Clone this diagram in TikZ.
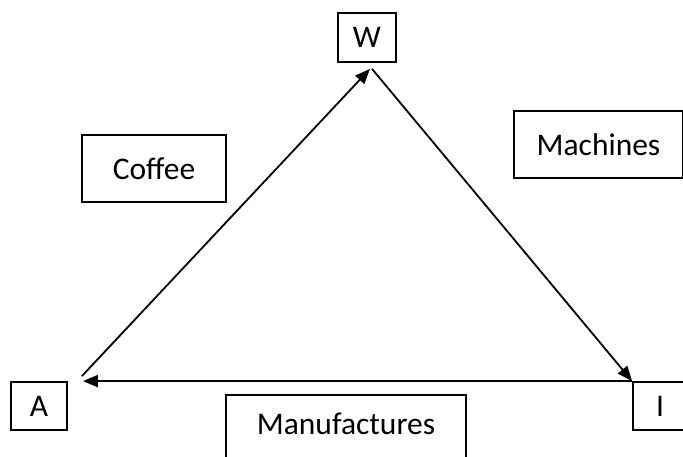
\documentclass[tikz,border=0pt]{standalone}
\usepackage{fontspec}
\setmainfont{Carlito}
\usepackage{tikz}
\usetikzlibrary{arrows.meta, positioning, calc}

\begin{document}
\begin{tikzpicture}[
  x=1pt, y=-1pt,
  box/.style={draw, line width=1.8pt, inner sep=0pt, font=\fontsize{31.5}{36}\selectfont},
  link/.style={-{Triangle[length=15pt, width=12pt]}, line width=1.8pt}
]
  \useasboundingbox (0,0) rectangle (683,457);

  % Vertices
  \node[box, minimum width=58, minimum height=49] (W) at (367,37.5) {W};
  \node[box, minimum width=56, minimum height=48] (A) at (39,406) {A};
  \node[box, minimum width=54, minimum height=48] (I) at (660,406) {I};

  % Labels
  \node[box, minimum width=144, minimum height=67] (coffee) at (154,168.5) {Coffee};
  \node[box, minimum width=169, minimum height=67] (machines) at (598.5,144.5) {Machines};
  \node[box, minimum width=240, text height=22, text depth=14, inner ysep=18, anchor=north]
    (manuf) at (346,394) {Manufactures};

  % Trade routes
  \draw[link] ($(A.north east)+(14,-5)$) -- ($(W.south)+(3,6)$);
  \draw[link] ($(W.south)+(5,6)$) -- (I.north west);
  \draw[link] (I.north west) -- ($(A.north east)+(15,0)$);
\end{tikzpicture}
\end{document}
